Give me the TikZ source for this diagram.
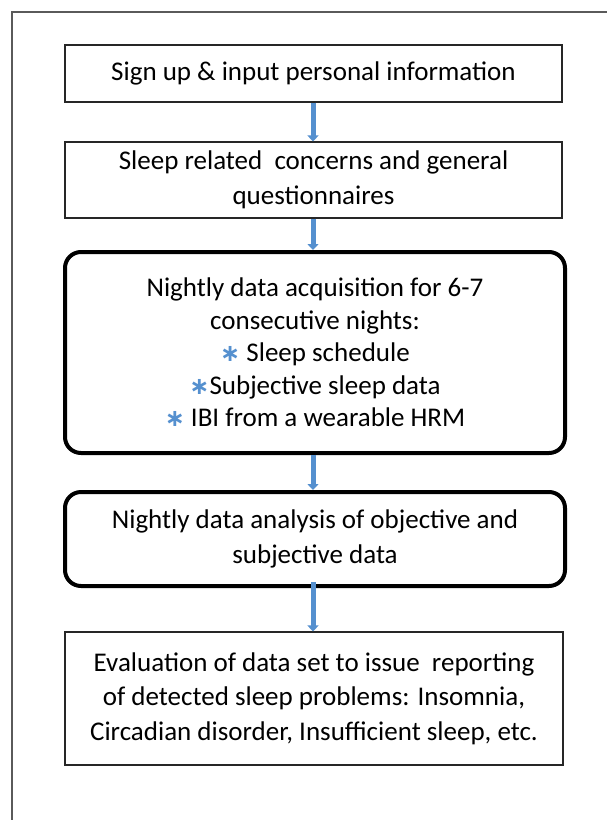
\documentclass[tikz,border=0pt]{standalone}
\usepackage{fontspec}
\setmainfont{Carlito}
\newfontfamily\symfont{DejaVu Sans}
\usetikzlibrary{arrows.meta}
\definecolor{arrblue}{HTML}{5590CF}
\definecolor{framegray}{HTML}{5A5A5A}
\newcommand{\bul}{\textcolor{arrblue}{\symfont\bfseries\fontsize{24}{24}\selectfont ∗}}
\tikzset{
  txt/.style={align=center, inner sep=0pt, font=\fontsize{27}{34.5}\selectfont},
  plainbox/.style={txt, draw=black!85, line width=1.1pt, minimum width=497pt},
  thickbox/.style={txt, draw=black, line width=4pt, rounded corners=16pt, minimum width=500pt},
  flowarrow/.style={draw=arrblue, line width=5pt, -{Triangle[width=11pt,length=6pt]}}
}
\begin{document}
\begin{tikzpicture}[x=1pt,y=-1pt]
\useasboundingbox (0,0) rectangle (606,820);
\fill[white] (0,0) rectangle (606,820);
\draw[framegray, line width=1.5pt] (12,12) rectangle (625,840);

\node[plainbox, minimum height=57pt] (b1) at (313.5,73.5) {Sign up \& input personal information};
\node[plainbox, minimum height=76pt] (b2) at (313.5,180) {Sleep related\ \ concerns and general\\questionnaires};
\node[thickbox, minimum height=201pt, font=\fontsize{27}{32.5}\selectfont] (b3) at (315,352.5) {Nightly data acquisition for 6-7\\consecutive nights:\\\bul\ Sleep schedule\\\bul Subjective sleep data\\\bul\ IBI from a wearable HRM};
\node[thickbox, minimum height=94pt] (b4) at (315,539) {Nightly data analysis of objective and\\subjective data};
\node[plainbox, minimum width=498pt, minimum height=133pt] (b5) at (314,698.5) {Evaluation of data set to issue\ \ reporting\\of detected sleep problems: Insomnia,\\Circadian disorder, Insufficient sleep, etc.};

\coordinate (ax) at (313,0);
\draw[flowarrow] (ax |- b1.south) -- (ax |- b2.north);
\draw[flowarrow] (ax |- b2.south) -- (ax |- b3.north);
\draw[flowarrow] (ax |- b3.south) -- (ax |- b4.north);
\draw[flowarrow] ([yshift=6pt]ax |- b4.south) -- (ax |- b5.north);
\end{tikzpicture}
\end{document}
